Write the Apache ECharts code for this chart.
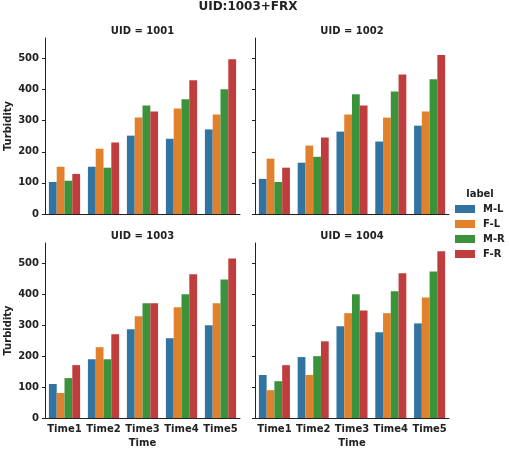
<!DOCTYPE html>
<html>
<head>
<meta charset="utf-8">
<script src="https://cdn.jsdelivr.net/npm/echarts@6/dist/echarts.min.js"></script>
<style>
  html, body { margin: 0; padding: 0; background: #fff; }
  #chart { width: 510px; height: 453px; }
</style>
</head>
<body>
<div id="chart"></div>
<script>
// data
const times = ['Time1', 'Time2', 'Time3', 'Time4', 'Time5'];
const labels = ['M-L', 'F-L', 'M-R', 'F-R'];
const uids = ['1001', '1002', '1003', '1004'];
const yTicks = [0, 100, 200, 300, 400, 500];

const uid1001 = {
    'M-L': [103, 152, 252, 242, 272],
    'F-L': [152, 210, 310, 339, 320],
    'M-R': [107, 149, 349, 369, 401],
    'F-R': [129, 230, 330, 430, 498],
};
const uid1002 = {
    'M-L': [113, 165, 265, 233, 284],
    'F-L': [178, 220, 320, 310, 330],
    'M-R': [103, 184, 385, 394, 433],
    'F-R': [149, 246, 349, 449, 511],
};
const uid1003 = {
    'M-L': [110, 190, 287, 258, 300],
    'F-L': [81, 229, 329, 358, 371],
    'M-R': [129, 190, 371, 400, 448],
    'F-R': [171, 271, 371, 465, 516],
};
const uid1004 = {
    'M-L': [139, 197, 297, 277, 306],
    'F-L': [90, 139, 339, 339, 390],
    'M-R': [119, 200, 400, 410, 474],
    'F-R': [171, 248, 348, 468, 539],
};
const panels = [uid1001, uid1002, uid1003, uid1004];
const colors = ['#3274a1', '#e1812c', '#3a923a', '#c03d3e'];

const chart = echarts.init(document.getElementById('chart'));
const font = 'DejaVu Sans';

// 2x2 facet grid
const boxes = [
    {left: 45, top: 38, width: 195, height: 176},
    {left: 255, top: 38, width: 194, height: 176},
    {left: 45, top: 243, width: 195, height: 175},
    {left: 255, top: 243, width: 194, height: 175},
];

const grid = boxes.map(b => ({...b, containLabel: false}));

const xAxis = boxes.map((b, i) => ({
    type: 'category',
    gridIndex: i,
    data: times,
    name: i >= 2 ? 'Time' : '',
    nameLocation: 'middle',
    nameGap: 20,
    nameTextStyle: {fontFamily: font, fontWeight: 'bold', fontSize: 10, color: '#222'},
    axisLine: {lineStyle: {color: '#222', width: 1}},
    axisTick: {alignWithLabel: true, length: 3, lineStyle: {color: '#222'}},
    axisLabel: {
        show: i >= 2, margin: 6, interval: 0, hideOverlap: false,
        fontFamily: font, fontWeight: 'bold', fontSize: 10, color: '#222',
    },
    splitLine: {show: false},
}));

const yAxis = boxes.map((b, i) => ({
    type: 'value',
    gridIndex: i,
    min: 0,
    max: 566,
    interval: 100,
    name: i % 2 === 0 ? 'Turbidity' : '',
    nameLocation: 'middle',
    nameGap: 32,
    nameRotate: 90,
    nameTextStyle: {fontFamily: font, fontWeight: 'bold', fontSize: 10, color: '#222'},
    axisLine: {show: true, lineStyle: {color: '#222', width: 1}},
    axisTick: {show: true, length: 3, customValues: yTicks, lineStyle: {color: '#222'}},
    axisLabel: {
        show: i % 2 === 0, margin: 6, customValues: yTicks,
        fontFamily: font, fontWeight: 'bold', fontSize: 10, color: '#222',
    },
    splitLine: {show: false},
}));

const series = [];
panels.forEach((p, i) => {
    labels.forEach((lab, k) => {
        series.push({
            name: lab,
            type: 'bar',
            xAxisIndex: i,
            yAxisIndex: i,
            data: p[lab],
            barGap: '0%',
            barCategoryGap: '20%',
            itemStyle: {color: colors[k]},
            emphasis: {disabled: true},
        });
    });
});

const title = [
    {text: 'UID:1003+FRX', left: 248, top: 1, padding: 0, textAlign: 'center',
     textStyle: {fontFamily: font, fontWeight: 'bold', fontSize: 12, color: '#222'}},
    {text: 'label', left: 480, top: 189, padding: 0, textAlign: 'center',
     textStyle: {fontFamily: font, fontWeight: 'bold', fontSize: 10, color: '#222'}},
].concat(boxes.map((b, i) => ({
    text: 'UID = ' + uids[i],
    left: b.left + b.width / 2,
    top: b.top - 12,
    padding: 0,
    textAlign: 'center',
    textStyle: {fontFamily: font, fontWeight: 'bold', fontSize: 10, color: '#222'},
})));

const option = {
    animation: false,
    color: colors,
    title: title,
    grid: grid,
    xAxis: xAxis,
    yAxis: yAxis,
    legend: {
        data: labels,
        orient: 'vertical',
        left: 455,
        top: 204,
        padding: 0,
        icon: 'rect',
        itemWidth: 20,
        itemHeight: 8,
        itemGap: 5,
        textStyle: {fontFamily: font, fontWeight: 'bold', fontSize: 10, color: '#222', padding: [0, 0, 0, 3]},
    },
    series: series,
};

chart.setOption(option);
</script>
</body>
</html>
